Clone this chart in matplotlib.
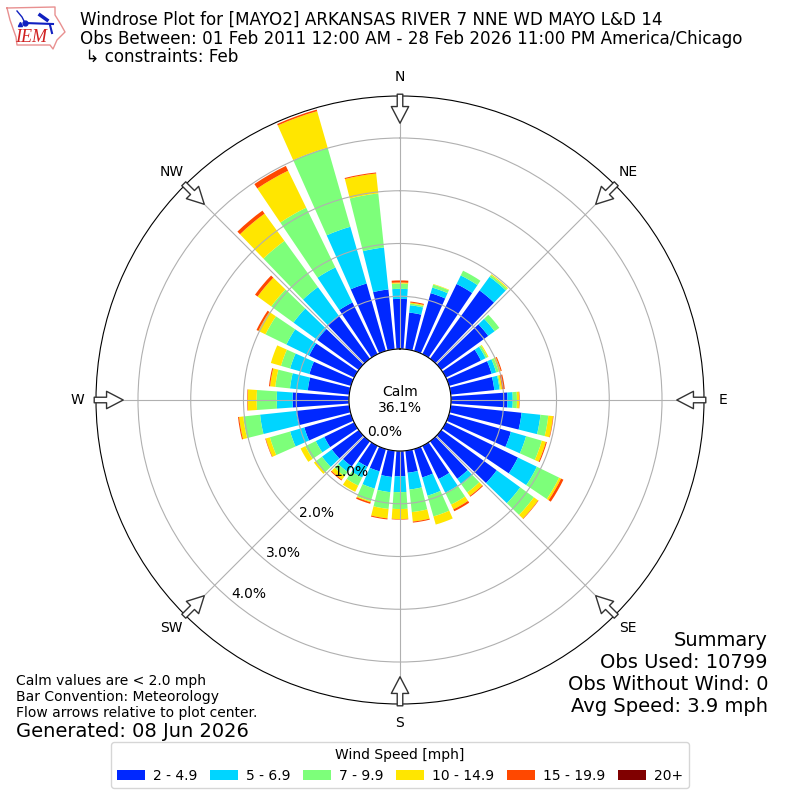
import numpy as np
import matplotlib
matplotlib.use("Agg")
import matplotlib.pyplot as plt

# wind direction bins, degrees from north
directions = np.arange(0, 360, 10)
speed_labels = ["2 - 4.9", "5 - 6.9", "7 - 9.9", "10 - 14.9", "15 - 19.9", "20+"]
speed_colors = ["#0028ff", "#00d5ff", "#7dff7a", "#ffe600", "#ff4800", "#800000"]

# frequency [%] per speed bin, one value per direction
speed_2_5 = [.95, .70, 1.14, 1.48, 1.60, 1.10, .74, .84, .83, 1.07, 1.35, 1.22,
             1.52, 1.30, .88, .70, .56, .42, .48, .50, .44, .44, .59, .63,
             .63, .92, 1.01, 1.07, .79, .82, .95, .97, 1.01, 1.09, 1.33, 1.14]
speed_5_7 = [.19, .14, .11, .18, .32, .15, .10, .09, .10, .10, .36, .30,
             .40, .55, .13, .29, .36, .32, .30, .29, .34, .23, .13, .23,
             .18, .28, .69, .30, .34, .38, .48, .56, .67, .74, 1.12, .80]
speed_7_10 = [.10, .03, .06, .10, .04, .11, .04, .05, .02, .08, .15, .31,
              .47, .32, .19, .25, .41, .43, .32, .32, .25, .17, .10, .15,
              .22, .40, .32, .38, .28, .18, .44, .52, 1.08, 1.26, 1.56, 1.03]
speed_10_15 = [.02, .02, .01, 0, .02, 0, .02, .04, .03, .04, .09, .08,
               .04, .10, .08, .10, .16, .18, .19, .18, .02, .13, .08, .04,
               .10, .08, .08, .17, .10, .20, .15, .32, .64, .78, .72, .38]
speed_15_20 = [.04, .02, 0, 0, 0, 0, 0, .02, .05, .01, .01, .02,
               .05, .01, .02, .04, 0, .02, .01, .02, .03, 0, .02, 0,
               0, .01, .02, .01, .02, 0, .04, .06, .07, .10, .03, .02]
speed_20 = [0] * 36

ring_values = [0, 1, 2, 3, 4]
ring_labels = ["0.0%", "1.0%", "2.0%", "3.0%", "4.0%"]
compass_angles = [0, 45, 90, 135, 180, 225, 270, 315]
compass_labels = ["N", "NE", "E", "SE", "S", "SW", "W", "NW"]

# logo outline, in figure pixels
logo_x = [7, 55, 55, 60, 65, 57, 53, 50, 17, 16, 10, 7]
logo_y = [8, 7, 15, 23, 32, 40, 49, 45, 45, 37, 20, 8]

fig = plt.figure(figsize=(8, 8), dpi=100)
ax = fig.add_axes([0.12, 0.12, 0.76, 0.76], polar=True)
ax.set_theta_zero_location("N")
ax.set_theta_direction(-1)

theta = np.radians(directions)
series = [speed_2_5, speed_5_7, speed_7_10, speed_10_15, speed_15_20, speed_20]
bottom = np.zeros(len(directions))
for values, label, color in zip(series, speed_labels, speed_colors):
    ax.bar(theta, values, width=np.radians(8), bottom=bottom, color=color,
           label=label, linewidth=0)
    bottom += np.array(values)

ax.set_rorigin(-0.967)
ax.set_ylim(0, 4.796)
ax.set_rgrids(ring_values, ring_labels, angle=220, ha="left", va="bottom")
ax.set_thetagrids(compass_angles, compass_labels)
ax.tick_params(axis="x", pad=3)

# flow arrows
for angle in compass_angles:
    ax.annotate("", xy=(np.radians(angle), 4.28), xytext=(np.radians(angle), 4.83),
                annotation_clip=False,
                arrowprops=dict(facecolor="white", edgecolor="#333333", width=4,
                                headwidth=12.5, headlength=12, linewidth=1,
                                shrink=0))

fig.text(0.5, 0.5, "Calm\n36.1%", ha="center", va="center", fontsize=10)

title = ("Windrose Plot for [MAYO2] ARKANSAS RIVER 7 NNE WD MAYO L&D 14\n"
         "Obs Between: 01 Feb 2011 12:00 AM - 28 Feb 2026 11:00 PM America/Chicago\n"
         " \u21b3 constraints: Feb")
fig.text(0.1, 0.9175, title, ha="left", va="bottom", fontsize=12.05, linespacing=1.03)

fig.text(0.02, 0.1, "Calm values are < 2.0 mph\nBar Convention: Meteorology\n"
         "Flow arrows relative to plot center.", ha="left", va="bottom", fontsize=10)
fig.text(0.02, 0.0862, "Generated: 08 Jun 2026", ha="left", va="center", fontsize=14)
fig.text(0.96, 0.105, "Summary\nObs Used: 10799\nObs Without Wind: 0\nAvg Speed: 3.9 mph",
         ha="right", va="bottom", fontsize=14)

fig.legend(*ax.get_legend_handles_labels(), title="Wind Speed [mph]", ncol=6,
           loc="center", bbox_to_anchor=(0.5, 0.0437), fontsize=10,
           handletextpad=0.6, columnspacing=0.9)

# IEM logo
logo = fig.add_axes([0, 0.925, 0.09, 0.075])
logo.set_xlim(0, 72)
logo.set_ylim(60, 0)
logo.axis("off")
logo.plot(logo_x, logo_y, color="#e89090", linewidth=1)
logo.plot([25, 53], [23, 24], color="#1020c0", linewidth=1.5)
logo.plot([17, 22, 25], [11, 17, 23], color="#1020c0", linewidth=1)
logo.plot([40, 47], [15, 20], color="#1020c0", linewidth=2.5)
logo.plot([50, 52], [25, 33], color="#1020c0", linewidth=1.5)
logo.plot([25], [23], "o", color="#1020c0", markersize=3.5)
logo.plot([20], [24], "^", color="#1020c0", markersize=3)
logo.text(31, 38, "IEM", color="#d02020", fontsize=13, family="Liberation Serif",
          style="italic", ha="center", va="center")

fig.savefig("out.png", dpi=100)
